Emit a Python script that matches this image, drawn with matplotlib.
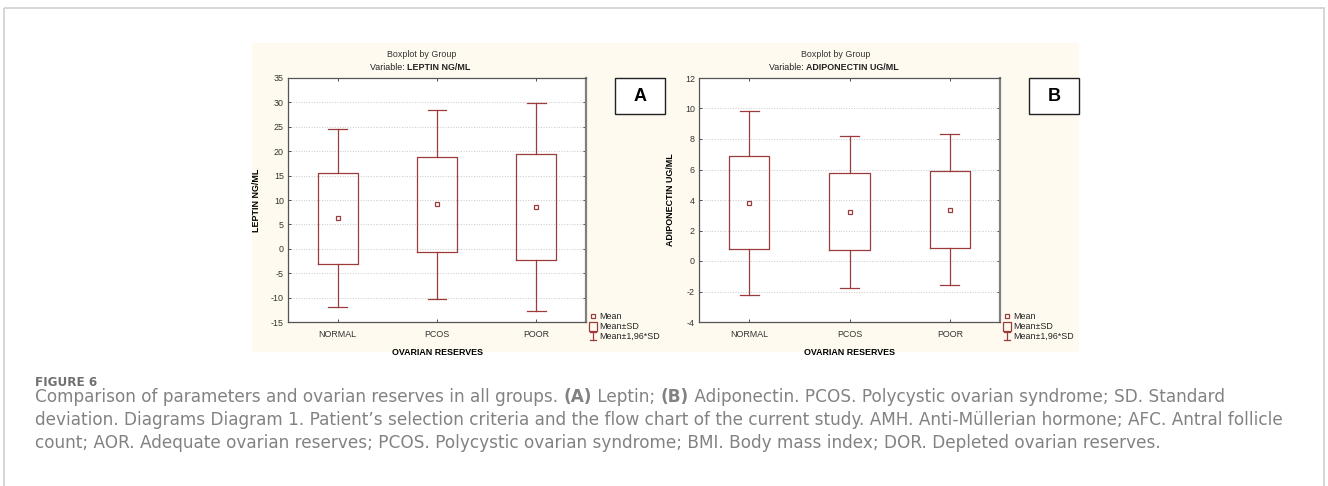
import matplotlib
matplotlib.use("Agg")
import matplotlib.pyplot as plt
from matplotlib.patches import Rectangle

# data
groups = ["NORMAL", "PCOS", "POOR"]
leptin_mean = [6.3, 9.15, 8.6]
leptin_sd_lo = [-3.1, -0.7, -2.25]
leptin_sd_hi = [15.6, 18.9, 19.4]
leptin_ci_lo = [-12.0, -10.2, -12.8]
leptin_ci_hi = [24.6, 28.4, 29.9]

adipo_mean = [3.83, 3.22, 3.37]
adipo_sd_lo = [0.77, 0.70, 0.87]
adipo_sd_hi = [6.9, 5.75, 5.9]
adipo_ci_lo = [-2.2, -1.75, -1.58]
adipo_ci_hi = [9.85, 8.2, 8.3]

caption = [
    [("Comparison of parameters and ovarian reserves in all groups. ", "normal"),
     ("(A)", "bold"), (" Leptin; ", "normal"), ("(B)", "bold"),
     (" Adiponectin. PCOS. Polycystic ovarian syndrome; SD. Standard", "normal")],
    [("deviation. Diagrams Diagram 1. Patient\u2019s selection criteria and the flow "
      "chart of the current study. AMH. Anti-M\u00fcllerian hormone; AFC. Antral follicle",
      "normal")],
    [("count; AOR. Adequate ovarian reserves; PCOS. Polycystic ovarian syndrome; "
      "BMI. Body mass index; DOR. Depleted ovarian reserves.", "normal")],
]

W, H = 1328, 486
RED = "#9b3b3b"
FS = 6.4
plt.rcParams["font.family"] = ["Liberation Sans", "DejaVu Sans"]
plt.rcParams["axes.unicode_minus"] = False

fig = plt.figure(figsize=(W / 100, H / 100), dpi=100)
rend = fig.canvas.get_renderer()


def box(x0, y0, x1, y1):
    return [x0 / W, 1 - y1 / H, (x1 - x0) / W, (y1 - y0) / H]


def runs(x, y, parts, va="center", **kw):
    for s, w in parts:
        t = fig.text(x / W, 1 - y / H, s, fontweight=w, va=va, **kw)
        x += t.get_window_extent(rend).width


def fit_size(s, width, **kw):
    t = fig.text(0, 0, s, fontsize=10, **kw)
    w = t.get_window_extent(rend).width
    t.remove()
    return 10 * width / w


# background: page frame + cream panel
bg = fig.add_axes([0, 0, 1, 1], zorder=0)
bg.set_xlim(0, W)
bg.set_ylim(H, 0)
bg.axis("off")
bg.add_patch(Rectangle((4, 8), 1320, 490, fill=False, ec="#cfcfcf", lw=1.2))
bg.add_patch(Rectangle((252, 43), 827, 309, fc="#fefaef", ec="none"))


def panel(rect, mean, sd_lo, sd_hi, ci_lo, ci_hi, ylim, step, var, ylab_x):
    ax = fig.add_axes(box(*rect), zorder=2)
    stats = []
    for g, m, a, b, c, d in zip(groups, mean, sd_lo, sd_hi, ci_lo, ci_hi):
        stats.append(dict(label=g, med=m, mean=m, q1=a, q3=b, whislo=c, whishi=d,
                          fliers=[]))
    ax.bxp(stats, widths=0.4, capwidths=0.19, showmeans=True, showfliers=False,
           boxprops=dict(color=RED, lw=0.9),
           whiskerprops=dict(color=RED, lw=0.9),
           capprops=dict(color=RED, lw=0.9),
           medianprops=dict(visible=False),
           meanprops=dict(marker="s", markersize=3.5, mfc="white", mec=RED, mew=0.9))
    ax.set_xlim(0.5, 3.5)
    ax.set_ylim(*ylim)
    ax.set_yticks(range(ylim[0], ylim[1] + 1, step))
    ax.yaxis.grid(True, ls=":", color="#c8c8c8", lw=0.7)
    ax.set_axisbelow(True)
    ax.tick_params(labelsize=FS, colors="#333333", length=2, width=0.6,
                   top=True, right=True, direction="in", pad=3)
    ax.tick_params(axis="x", pad=6)
    for s in ax.spines.values():
        s.set_color("#555555")
        s.set_linewidth(0.9)
    ax.spines["right"].set_color("#808080")
    ax.spines["right"].set_linewidth(1.6)
    ax.set_ylabel(var, fontsize=FS, fontweight="bold")
    ax.yaxis.set_label_coords(ylab_x, 0.5)
    ax.set_xlabel("OVARIAN RESERVES", fontsize=FS, fontweight="bold")
    ax.xaxis.set_label_coords(0.5, -0.105)
    return ax


panel((288, 78, 586, 322), leptin_mean, leptin_sd_lo, leptin_sd_hi,
      leptin_ci_lo, leptin_ci_hi, (-15, 35), 5, "LEPTIN NG/ML", -0.09)
panel((699, 78, 1000, 322), adipo_mean, adipo_sd_lo, adipo_sd_hi,
      adipo_ci_lo, adipo_ci_hi, (-4, 12), 2, "ADIPONECTIN UG/ML", -0.08)

# titles
for cx, x0, var in [(422, 370, "LEPTIN NG/ML"), (836, 769, "ADIPONECTIN UG/ML")]:
    fig.text(cx / W, 1 - 54 / H, "Boxplot by Group", fontsize=FS, ha="center",
             va="center", color="#333333")
    runs(x0, 67, [("Variable: ", "normal"), (var, "bold")], fontsize=FS,
         color="#222222")

# foreground: label boxes and legends
fg = fig.add_axes([0, 0, 1, 1], zorder=5)
fg.set_xlim(0, W)
fg.set_ylim(H, 0)
fg.axis("off")
for x0, lab in [(615, "A"), (1029, "B")]:
    fg.add_patch(Rectangle((x0, 78), 50, 36, fc="white", ec="#222222", lw=1))
    fg.text(x0 + 25, 96.5, lab, fontsize=13, fontweight="bold", ha="center",
            va="center")

for lx in [593, 1007]:
    fg.plot([lx], [316], marker="s", ms=3, mfc="white", mec=RED, mew=0.9)
    fg.add_patch(Rectangle((lx - 4, 321.5), 8, 9, fill=False, ec=RED, lw=0.9))
    fg.plot([lx, lx], [332, 340], color=RED, lw=0.9)
    fg.plot([lx - 3, lx + 3], [332, 332], color=RED, lw=0.9)
    fg.plot([lx - 3, lx + 3], [340, 340], color=RED, lw=0.9)
    for y, s in [(316, "Mean"), (326, "Mean±SD"), (336, "Mean±1,96*SD")]:
        fg.text(lx + 6, y, s, fontsize=FS, va="center", color="#222222")

# caption
CAP = "#828282"
fam = dict(family="DejaVu Sans")
fig.text(35 / W, 1 - 386 / H, "FIGURE 6", color="#707070", va="baseline",
         fontweight="bold", fontsize=fit_size("FIGURE 6", 62, fontweight="bold", **fam),
         **fam)
cs = fit_size(caption[1][0][0], 1248, **fam)
for parts, yb in zip(caption, [402, 425, 448]):
    runs(35, yb, parts, va="baseline", fontsize=cs, color=CAP, **fam)

fig.savefig("out.png", dpi=100)
